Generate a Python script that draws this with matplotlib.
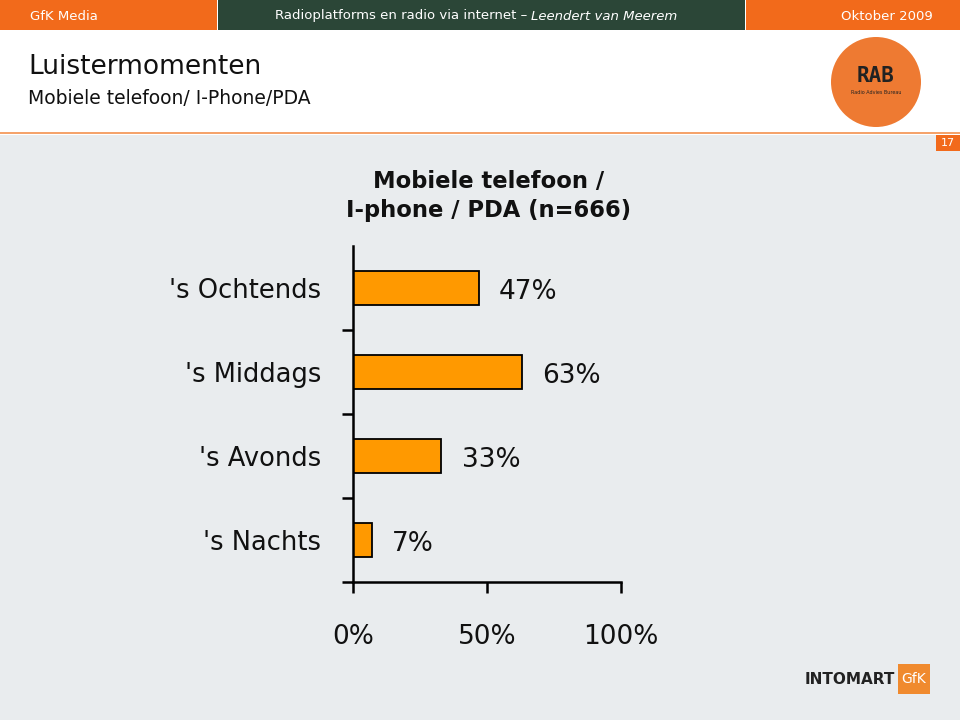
import matplotlib
matplotlib.use('Agg')
import matplotlib.pyplot as plt
from matplotlib.patches import Rectangle, Ellipse

###       DATA          ###
categories = ["'s Ochtends", "'s Middags", "'s Avonds", "'s Nachts"]
values = [47, 63, 33, 7]
x_ticks = [0, 50, 100]
x_tick_labels = ['0%', '50%', '100%']
chart_title = 'Mobiele telefoon /\nI-phone / PDA (n=666)'
###                     ###

###       SETUP         ###
W, H = 960, 720
ORANGE = '#F26A1B'
GREEN = '#2B4637'
BAR = '#FF9900'
BG = '#E9ECEE'

fig = plt.figure(figsize=(W / 100, H / 100), dpi=100)
fig.patch.set_facecolor('white')

def px(x, y):
    # pixel coords (top-left origin) -> figure fraction
    return x / W, 1 - y / H

def box(x0, y0, x1, y1, color, **kw):
    fig.patches.append(Rectangle(px(x0, y1), (x1 - x0) / W, (y1 - y0) / H,
                                 transform=fig.transFigure, facecolor=color,
                                 edgecolor='none', zorder=0, **kw))

# header strips
box(0, 0, 217, 30, ORANGE)
box(218, 0, 745, 30, GREEN)
box(746, 0, 960, 30, ORANGE)
# grey body + orange rule
box(0, 135, 960, 720, BG)
box(0, 132, 960, 134, '#F5A36B')
# page number box
box(936, 135, 960, 151, ORANGE)
fig.text(*px(948, 143), '17', color='white', fontsize=8, ha='center', va='center')

hdr = dict(color='white', fontsize=9.5, va='center')
fig.text(*px(30, 16), 'GfK Media', ha='left', **hdr)
fig.text(*px(527, 16), 'Radioplatforms en radio via internet \u2013', ha='right', **hdr)
fig.text(*px(531, 16), 'Leendert van Meerem', ha='left', style='italic', **hdr)
fig.text(*px(933, 16), 'Oktober 2009', ha='right', **hdr)

fig.text(*px(28, 67), 'Luistermomenten', ha='left', va='center', fontsize=19,
         color='#111111')
fig.text(*px(28, 98), 'Mobiele telefoon/ I-Phone/PDA', ha='left', va='center',
         fontsize=13.5, color='#111111')

# RAB logo
fig.patches.append(Ellipse(px(876, 82), 90 / W, 90 / H, transform=fig.transFigure,
                           facecolor='#EE7A32', edgecolor='none', zorder=0))
fig.text(*px(876, 76), 'RAB', ha='center', va='center', fontsize=15,
         family='DejaVu Sans Mono', weight='bold', color='#222222')
fig.text(*px(876, 92), 'Radio Advies Bureau', ha='center', va='center',
         fontsize=3.5, color='#222222')

# INTOMART GfK logo
fig.text(*px(895, 679), 'INTOMART', ha='right', va='center', fontsize=11,
         weight='bold', color='#222222')
box(898, 664, 930, 694, '#F08A2E')
fig.text(*px(914, 679), 'GfK', ha='center', va='center', fontsize=10, color='white')
###                     ###

###       PLOT          ###
ax = fig.add_axes([353 / W, 1 - 582 / H, (621 - 353) / W, (582 - 246) / H])
ax.set_zorder(2)
ax.set_facecolor('none')
ypos = list(range(len(categories)))[::-1]
ax.barh(ypos, values, height=0.4, color=BAR, edgecolor='black', linewidth=1.3)

for y, v in zip(ypos, values):
    ax.text(v + 7.5, y - 0.05, f'{v}%', ha='left', va='center', fontsize=19,
            color='#111111', clip_on=False)

ax.set_xlim(0, 100)
ax.set_ylim(-0.5, len(categories) - 0.5)
ax.set_xticks(x_ticks)
ax.set_xticklabels(x_tick_labels, fontsize=19, color='#111111')
ax.set_yticks(ypos)
ax.set_yticklabels(categories, fontsize=18.5, color='#111111')
ax.set_yticks([-0.5, 0.5, 1.5, 2.5], minor=True)
ax.tick_params(axis='y', which='major', length=0, pad=23)
ax.tick_params(axis='y', which='minor', length=8, width=1.8, direction='out')
ax.tick_params(axis='x', which='major', length=8, width=1.8, direction='out', pad=22)

for s in ['top', 'right']:
    ax.spines[s].set_visible(False)
for s in ['left', 'bottom']:
    ax.spines[s].set_linewidth(1.8)

fig.text(*px(489, 196), chart_title, ha='center', va='center', fontsize=16.3,
         weight='bold', color='#111111', linespacing=1.3)
###                     ###

###        OUTPUT       ###
plt.savefig('out.png', dpi=100, facecolor=fig.get_facecolor())
###                     ###
